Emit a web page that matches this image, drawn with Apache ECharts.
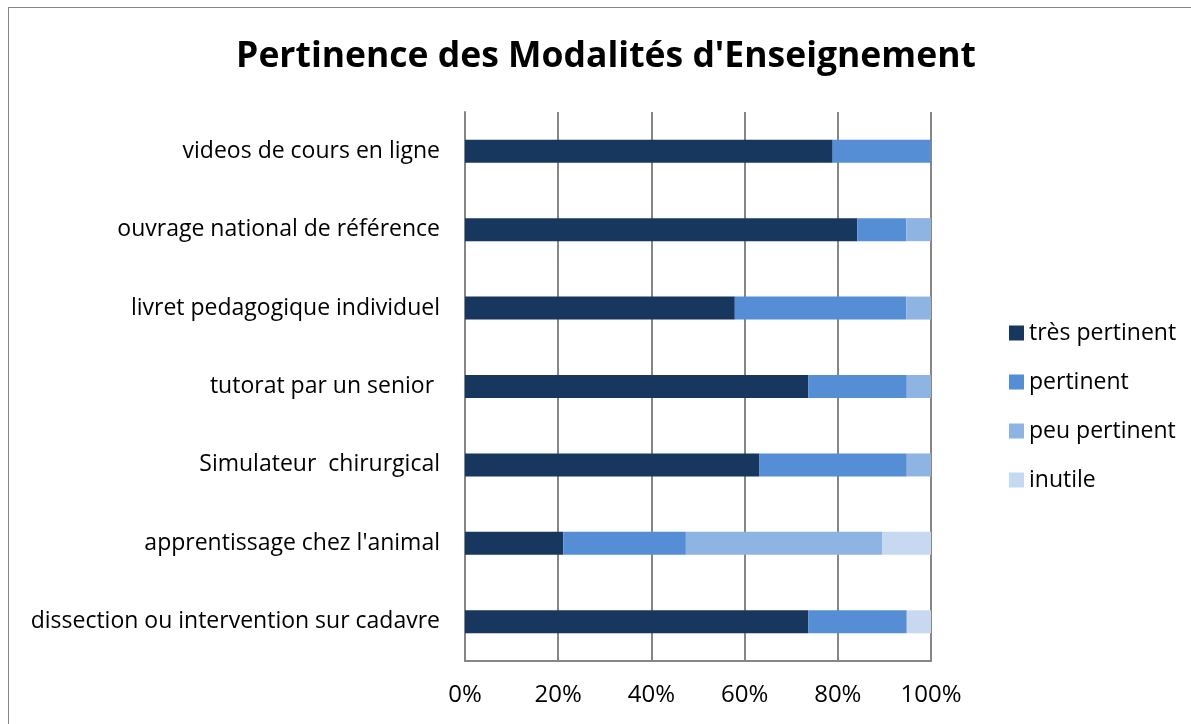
<!DOCTYPE html>
<html>
<head>
<meta charset="utf-8">
<script src="https://cdn.jsdelivr.net/npm/echarts@6/dist/echarts.min.js"></script>
<style>
  html, body { margin: 0; padding: 0; background: #fff; }
  #frame { position: absolute; left: 8px; top: 7px; width: 1200px; height: 740px; border: 1px solid #868686; box-sizing: border-box; }
  #main { position: absolute; left: 0; top: 0; width: 1191px; height: 724px; }
</style>
</head>
<body>
<div id="frame"></div>
<div id="main"></div>
<script>
// categories, de bas en haut (ordre de l'axe ECharts)
var categories = [
  'dissection ou intervention sur cadavre',
  "apprentissage chez l'animal",
  'Simulateur  chirurgical',
  'tutorat par un senior ',
  'livret pedagogique individuel',
  'ouvrage national de référence',
  'videos de cours en ligne'
];
// pourcentages
var tresPertinent = [73.7, 21.1, 63.2, 73.7, 57.9, 84.2, 78.9];
var pertinent     = [21.1, 26.3, 31.6, 21.1, 36.8, 10.5, 21.1];
var peuPertinent  = [0,    42.1, 5.3,  5.3,  5.3,  5.3,  0];
var inutile       = [5.3,  10.5, 0,    0,    0,    0,    0];
var tickLabels = ['0%', '20%', '40%', '60%', '80%', '100%'];

var font = '"Open Sans", "Noto Sans", sans-serif';
var myChart = echarts.init(document.getElementById('main'));

function serie(name, data, color) {
  return {
    name: name,
    type: 'bar',
    stack: 'total',
    barWidth: 23,
    data: data,
    itemStyle: { color: color },
    emphasis: { disabled: true }
  };
}

var option = {
  animation: false,
  title: {
    text: "Pertinence des Modalités d'Enseignement",
    left: 601,
    textAlign: 'center',
    top: 34,
    textStyle: { fontFamily: font, fontSize: 35.5, fontWeight: 'bold', color: '#000' }
  },
  legend: {
    orient: 'vertical',
    left: 1004,
    top: 316,
    itemWidth: 15,
    itemHeight: 15,
    itemGap: 25,
    icon: 'rect',
    textStyle: { fontFamily: font, fontSize: 23, lineHeight: 24, color: '#000' },
    data: ['très pertinent', 'pertinent', 'peu pertinent', 'inutile']
  },
  grid: { left: 465, right: 260, top: 112, bottom: 63, containLabel: false },
  xAxis: {
    type: 'value',
    min: 0,
    max: 100,
    interval: 20,
    axisLine: { show: true, lineStyle: { color: '#868686', width: 2 } },
    axisTick: { show: false },
    splitLine: { show: true, lineStyle: { color: '#868686', width: 2 } },
    axisLabel: {
      margin: 22,
      fontFamily: font,
      fontSize: 24,
      color: '#000',
      formatter: function (v) { return tickLabels[Math.round(v / 20)]; }
    }
  },
  yAxis: {
    type: 'category',
    data: categories,
    axisLine: { show: true, lineStyle: { color: '#868686', width: 2 } },
    axisTick: { show: false },
    axisLabel: { margin: 25, fontFamily: font, fontSize: 23, color: '#000' }
  },
  series: [
    serie('très pertinent', tresPertinent, '#17375E'),
    serie('pertinent', pertinent, '#558ED5'),
    serie('peu pertinent', peuPertinent, '#8EB4E3'),
    serie('inutile', inutile, '#C6D9F1')
  ]
};
myChart.setOption(option);
</script>
</body>
</html>
